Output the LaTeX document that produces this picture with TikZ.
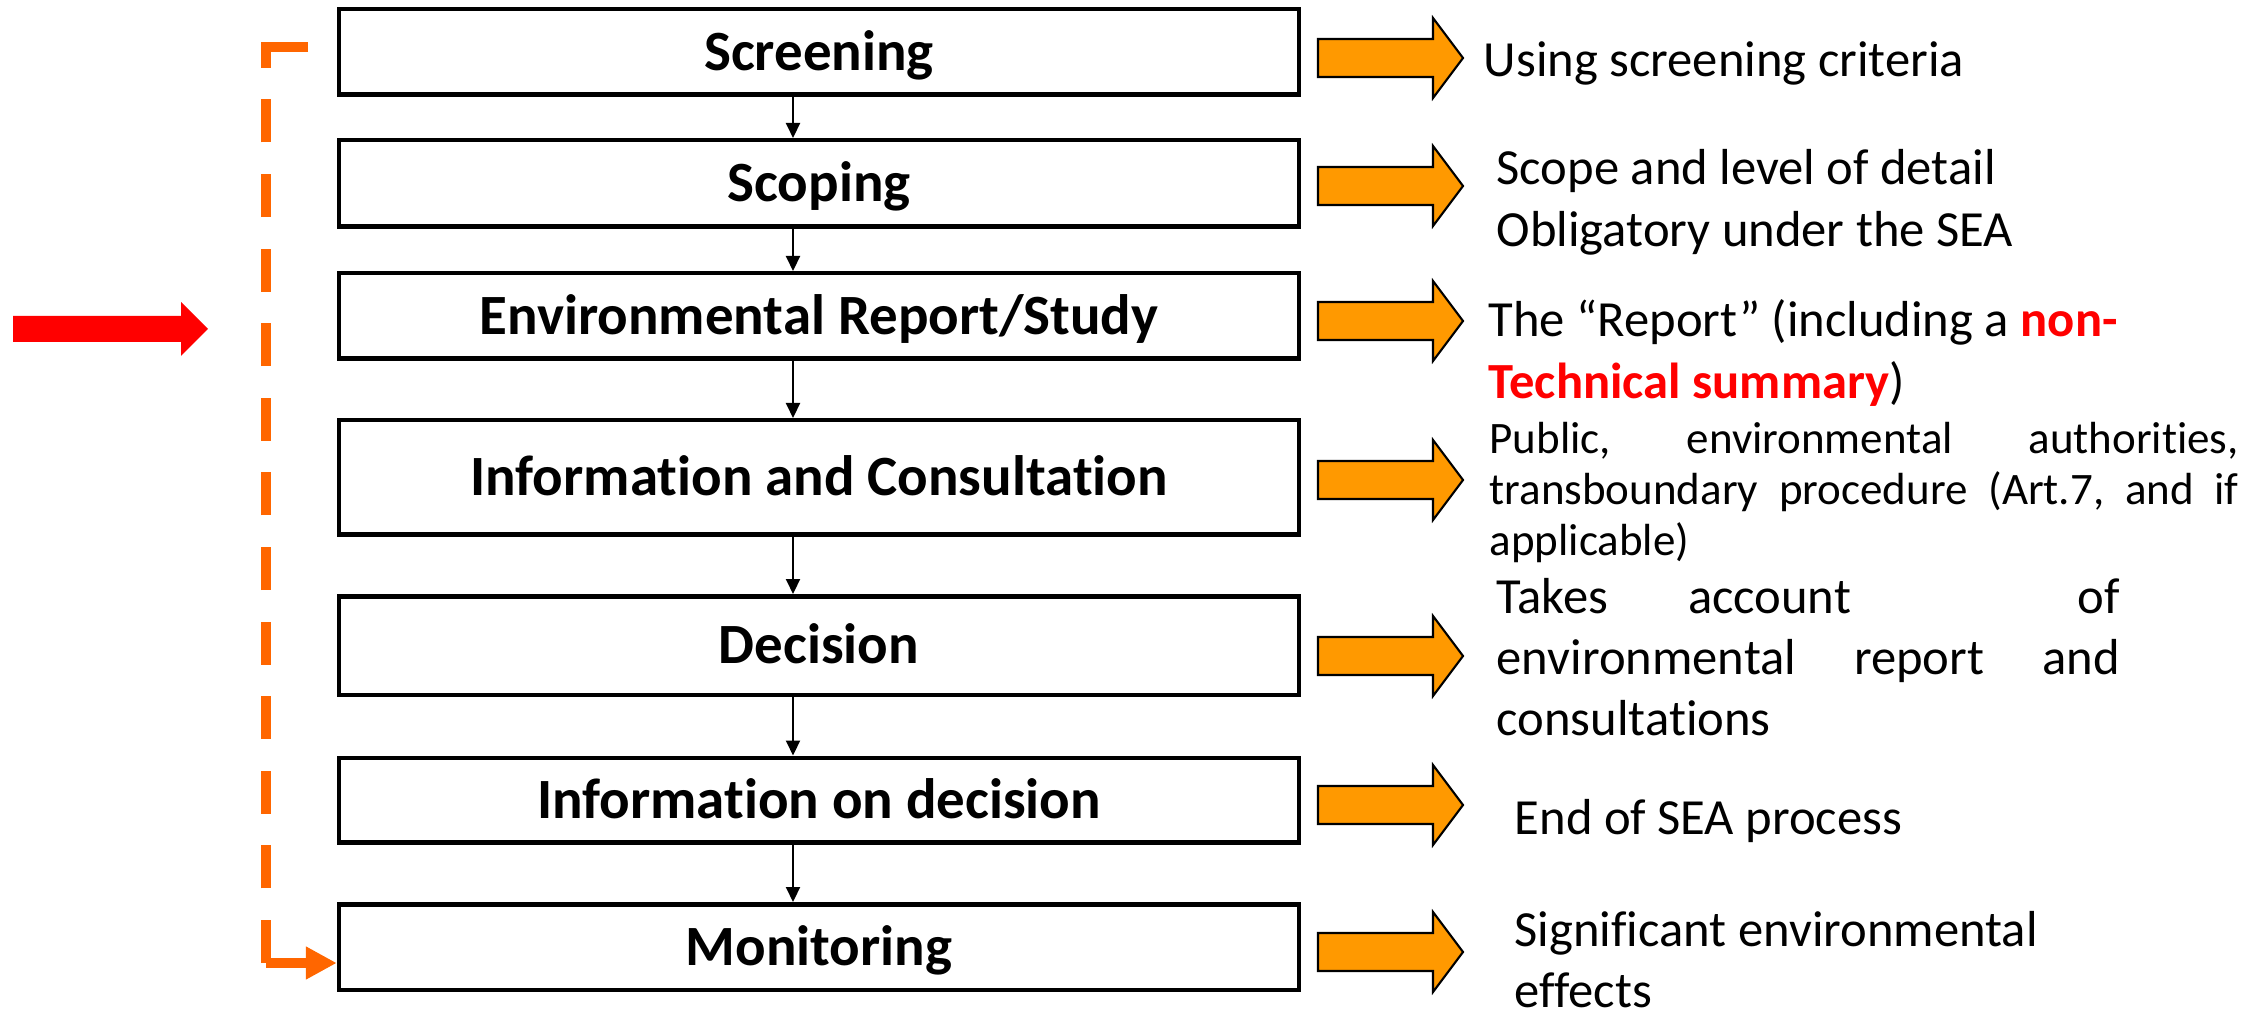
\documentclass[tikz,border=0pt]{standalone}
\usepackage{fontspec}
\setmainfont{Carlito}[Ligatures=NoCommon]
\usetikzlibrary{arrows.meta}

\definecolor{boxorange}{RGB}{255,153,0}
\definecolor{loopcolor}{RGB}{255,102,0}
\definecolor{markred}{RGB}{255,0,0}

\begin{document}
\begin{tikzpicture}[
	stage/.style={draw, line width=0.045cm, minimum width=9.6cm, inner sep=0pt,
		font=\bfseries\fontsize{16.2}{19}\selectfont, text height=11.7pt, text depth=1.3pt},
	flow/.style={line width=0.6pt, -{Triangle[length=0.15cm,width=0.14cm]}},
	outarrow/.style={fill=boxorange, draw=black, line width=0.6pt},
	loopline/.style={draw=loopcolor, line width=0.1cm},
	note/.style={anchor=base west, inner sep=0pt, align=flush left,
		font=\fontsize{14.4}{17.4}\selectfont}]
\useasboundingbox (0,0) rectangle (22.67,-10.14);

% the seven stages
\node[stage, minimum height=0.855cm] (screen) at (8.19,-0.52) {Screening};
\node[stage, minimum height=0.865cm] (scope) at (8.19,-1.835) {Scoping};
\node[stage, minimum height=0.855cm] (report) at (8.19,-3.16) {Environmental Report/Study};
\node[stage, minimum height=1.145cm] (consult) at (8.19,-4.775) {Information and Consultation};
\node[stage, minimum height=0.985cm] (decide) at (8.19,-6.455) {Decision};
\node[stage, minimum height=0.845cm] (inform) at (8.19,-8.00) {Information on decision};
\node[stage, minimum height=0.855cm] (monitor) at (8.19,-9.47) {Monitoring};

\coordinate (axis) at (7.93,0);
\foreach \a/\b in {screen/scope,scope/report,report/consult,consult/decide,decide/inform,inform/monitor}
	\draw[flow] (\a.south -| axis) -- (\b.north -| axis);

% feedback loop on the left
\coordinate (fbtop) at (3.08,-0.47);
\coordinate (fbbot) at (2.66,-9.63);
\draw[loopline, dash pattern=on 0.43cm off 0.316cm] (fbbot) |- (fbtop);
\draw[loopline] (fbtop) -- (fbtop -| fbbot) -- ++(0,-0.20);
\draw[loopline, -{Triangle[length=0.31cm,width=0.31cm]}] (fbbot) -- (fbbot -| monitor.west);

% red marker
\fill[markred] (0.13,-3.16) -- (1.81,-3.16) -- (1.81,-3.02) -- (2.08,-3.29) -- (1.81,-3.56) -- (1.81,-3.42) -- (0.13,-3.42) -- cycle;

% block arrows to the outputs
\foreach \y in {-0.58,-1.86,-3.21,-4.80,-6.56,-8.05,-9.52}
	\filldraw[outarrow] (13.18,\y+0.19) -- ++(1.15,0) -- ++(0,0.21) -- ++(0.30,-0.40) -- ++(-0.30,-0.40) -- ++(0,0.21) -- ++(-1.15,0) -- cycle;

\node[note] (screentxt) at (14.83,-0.77) {Using screening criteria};
\node[note, text width=6cm] (scopetxt) at (14.96,-1.85) {Scope and level of detail\\Obligatory under the SEA};
\node[note, text width=7cm] (reporttxt) at (14.88,-3.37) {The “Report” (including a \textcolor{markred}{\textbf{non-}}\\\textcolor{markred}{\textbf{Technical summary}})};
\node[note, text width=7.49cm, font=\fontsize{12.8}{14.5}\selectfont] (consulttxt) at (14.89,-4.54) {Public,\hfill environmental\hfill authorities,\\transboundary\hfill procedure\hfill (Art.7,\hfill and\hfill if\\applicable)};
\node[note, text width=6.23cm] (decidetxt) at (14.96,-6.13) {Takes\hspace{0.8cm}account\hfill of\\environmental\hfill report\hfill and\\consultations};
\node[note] (informtxt) at (15.14,-8.34) {End of SEA process};
\node[note, text width=6cm] (monitortxt) at (15.14,-9.46) {Significant environmental\\effects};
\end{tikzpicture}
\end{document}
